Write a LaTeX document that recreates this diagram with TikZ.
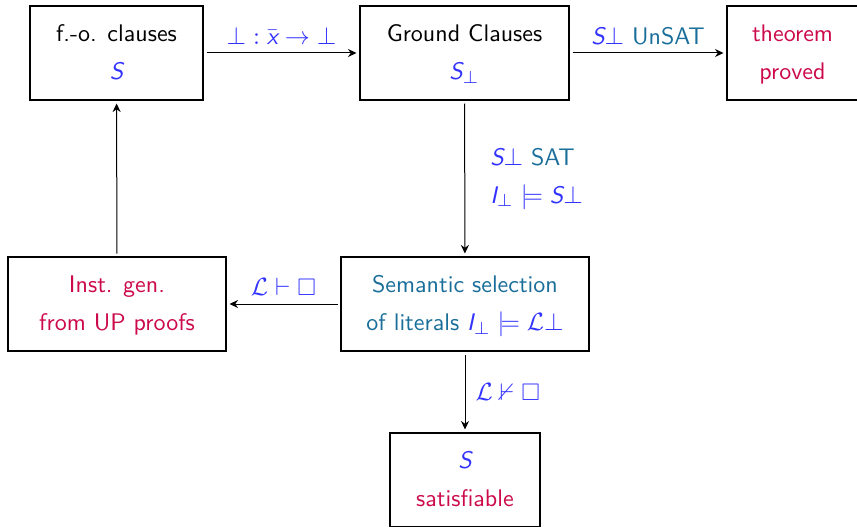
\documentclass[tikz,border=0pt]{standalone}
\usepackage{amsmath,amssymb}
\usetikzlibrary{arrows.meta}

\definecolor{mathblue}{RGB}{51,51,255}
\definecolor{tealtxt}{RGB}{26,110,154}
\definecolor{crim}{RGB}{204,10,74}

% slanted sans letters for formulas
\newcommand{\mv}[1]{\text{\sffamily\slshape #1}}

\tikzset{
  box/.style={draw, line width=0.6pt, minimum height=37.6pt, inner sep=0pt,
    outer sep=1.4pt, align=center},
  flow/.style={line width=0.4pt, -{Stealth[length=3.4pt,width=3.2pt,inset=1.1pt]}},
  lbl/.style={inner sep=0pt, text=mathblue},
  every node/.style={font=\fontsize{9.6}{15.2}\selectfont\sffamily},
}

\begin{document}
\begin{tikzpicture}[x=0.4pt, y=-0.4pt]
\useasboundingbox (0,0) rectangle (857,526);

% boxes (struts keep both text lines at the same height in every box)
\node[box, minimum width=69.2pt] (fo) at (116.5,53)
  {\strut f.-o. clauses\\ \strut\textcolor{mathblue}{$\mv{S}$}};
\node[box, minimum width=83.6pt] (ground) at (464.5,53)
  {\strut Ground Clauses\\ \strut\textcolor{mathblue}{$\mv{S}_{\bot}$}};
\node[box, minimum width=52.4pt, text=crim] (thm) at (792.5,53)
  {\strut theorem\\ \strut proved};
\node[box, minimum width=99.2pt, text=tealtxt] (sem) at (465,304)
  {\strut Semantic selection\\ \strut of literals \textcolor{mathblue}{$\mv{I}_{\bot}\models\mathcal{L}\bot$}};
\node[box, minimum width=87.2pt, text=crim] (inst) at (117,304)
  {\strut Inst. gen.\\ \strut from UP proofs};
\node[box, minimum width=60pt] (sat) at (465,480)
  {\strut\textcolor{mathblue}{$\mv{S}$}\\ \strut\textcolor{crim}{satisfiable}};

% connectors
\draw[flow] (fo) -- node[lbl, midway, yshift=7pt]
  {$\bot:\bar{\mv{x}}\to\bot$} (ground);
\draw[flow] (ground) -- node[lbl, midway, yshift=6.6pt]
  {$\mv{S}\bot$ \textcolor{tealtxt}{UnSAT}} (thm);
\draw[flow] (ground) -- node[lbl, midway, anchor=west, xshift=10pt, align=left]
  {$\mv{S}\bot$ \textcolor{tealtxt}{SAT}\\ $\mv{I}_{\bot}\models\mv{S}\bot$} (sem);
\draw[flow] (sem) -- node[lbl, midway, yshift=6.8pt]
  {$\mathcal{L}\vdash\Box$} (inst);
\draw[flow] (sem) -- node[lbl, midway, anchor=west, xshift=4pt]
  {$\mathcal{L}\nvdash\Box$} (sat);
\draw[flow] (inst) -- (fo);
\end{tikzpicture}
\end{document}
